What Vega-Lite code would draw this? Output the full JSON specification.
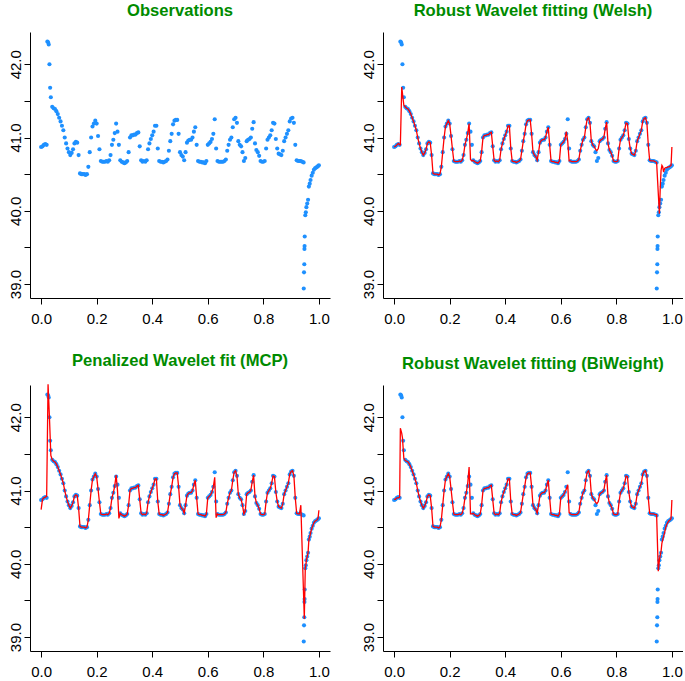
{
"$schema":"https://vega.github.io/schema/vega-lite/v6.json",
"padding":{"left":8,"top":3,"right":0,"bottom":0},
"background":"white",
"datasets":{"series":[
{"x":0.000,"o":40.87,"w":40.87,"b":40.88,"m":40.74},
{"x":0.005,"o":40.88,"w":40.88,"b":40.88,"m":40.88},
{"x":0.010,"o":40.90,"w":40.90,"b":40.90,"m":40.90},
{"x":0.015,"o":40.91,"w":40.92,"b":40.90,"m":40.91},
{"x":0.020,"o":40.90,"w":40.90,"b":40.91,"m":40.92},
{"x":0.0225,"o":42.31,"w":40.90,"b":41.85,"m":null},
{"x":0.025,"o":42.30,"w":null,"b":null,"m":42.45},
{"x":0.0275,"o":42.27,"w":41.69,"b":41.78,"m":null},
{"x":0.030,"o":42.00,"w":null,"b":41.72,"m":42.00},
{"x":0.0325,"o":41.68,"w":null,"b":null,"m":null},
{"x":0.035,"o":41.55,"w":41.44,"b":41.44,"m":41.48},
{"x":0.040,"o":41.42,"w":41.42,"b":41.41,"m":41.42},
{"x":0.045,"o":41.40,"w":41.40,"b":41.40,"m":41.40},
{"x":0.050,"o":41.39,"w":41.39,"b":41.39,"m":41.39},
{"x":0.055,"o":41.36,"w":41.36,"b":41.36,"m":41.36},
{"x":0.060,"o":41.32,"w":41.32,"b":41.32,"m":41.32},
{"x":0.065,"o":41.27,"w":41.27,"b":41.27,"m":41.27},
{"x":0.070,"o":41.22,"w":41.22,"b":41.22,"m":41.22},
{"x":0.075,"o":41.16,"w":41.16,"b":41.16,"m":41.16},
{"x":0.080,"o":41.10,"w":41.10,"b":41.10,"m":41.10},
{"x":0.085,"o":41.00,"w":41.00,"b":41.00,"m":41.00},
{"x":0.090,"o":40.92,"w":40.92,"b":40.92,"m":40.92},
{"x":0.095,"o":40.85,"w":40.85,"b":40.85,"m":40.85},
{"x":0.100,"o":40.80,"w":40.80,"b":40.80,"m":40.80},
{"x":0.105,"o":40.76,"w":40.76,"b":40.76,"m":40.76},
{"x":0.110,"o":40.79,"w":40.79,"b":40.79,"m":40.79},
{"x":0.115,"o":40.84,"w":40.84,"b":40.84,"m":40.84},
{"x":0.120,"o":40.92,"w":40.92,"b":40.92,"m":40.92},
{"x":0.125,"o":40.94,"w":40.94,"b":40.94,"m":40.94},
{"x":0.130,"o":40.93,"w":40.93,"b":40.93,"m":40.93},
{"x":0.135,"o":40.76,"w":40.76,"b":40.76,"m":40.76},
{"x":0.140,"o":40.51,"w":40.51,"b":40.51,"m":40.51},
{"x":0.145,"o":40.50,"w":40.50,"b":40.50,"m":40.50},
{"x":0.150,"o":40.50,"w":40.50,"b":40.50,"m":40.50},
{"x":0.155,"o":40.50,"w":40.50,"b":40.50,"m":40.50},
{"x":0.160,"o":40.49,"w":40.49,"b":40.49,"m":40.49},
{"x":0.165,"o":40.50,"w":40.50,"b":40.50,"m":40.50},
{"x":0.170,"o":40.60,"w":40.60,"b":40.60,"m":40.60},
{"x":0.175,"o":40.80,"w":40.80,"b":40.80,"m":40.80},
{"x":0.180,"o":41.00,"w":41.00,"b":41.00,"m":41.00},
{"x":0.185,"o":41.15,"w":41.15,"b":41.15,"m":41.15},
{"x":0.190,"o":41.19,"w":41.19,"b":41.19,"m":41.19},
{"x":0.195,"o":41.23,"w":41.23,"b":41.23,"m":41.23},
{"x":0.200,"o":41.19,"w":41.19,"b":41.19,"m":41.19},
{"x":0.205,"o":41.02,"w":41.02,"b":41.02,"m":41.02},
{"x":0.210,"o":40.84,"w":40.84,"b":40.84,"m":40.84},
{"x":0.215,"o":40.68,"w":40.68,"b":40.68,"m":40.68},
{"x":0.220,"o":40.67,"w":40.67,"b":40.67,"m":40.67},
{"x":0.225,"o":40.67,"w":40.67,"b":40.67,"m":40.67},
{"x":0.230,"o":40.67,"w":40.67,"b":40.67,"m":40.67},
{"x":0.235,"o":40.68,"w":40.68,"b":40.68,"m":40.68},
{"x":0.240,"o":40.67,"w":40.67,"b":40.67,"m":40.67},
{"x":0.245,"o":40.69,"w":40.69,"b":40.69,"m":40.69},
{"x":0.250,"o":40.76,"w":40.76,"b":40.76,"m":40.76},
{"x":0.255,"o":40.90,"w":40.90,"b":40.90,"m":40.90},
{"x":0.260,"o":40.97,"w":40.97,"b":40.97,"m":40.97},
{"x":0.265,"o":41.06,"w":41.06,"b":41.10,"m":41.06},
{"x":0.270,"o":41.19,"w":41.19,"b":41.32,"m":41.21},
{"x":0.275,"o":41.08,"w":40.70,"b":40.68,"m":41.00},
{"x":0.280,"o":40.90,"w":40.68,"b":40.68,"m":40.62},
{"x":0.285,"o":40.69,"w":40.69,"b":40.69,"m":40.69},
{"x":0.290,"o":40.67,"w":40.67,"b":40.67,"m":40.67},
{"x":0.295,"o":40.66,"w":40.66,"b":40.66,"m":40.66},
{"x":0.300,"o":40.65,"w":40.65,"b":40.65,"m":40.65},
{"x":0.305,"o":40.66,"w":40.66,"b":40.66,"m":40.66},
{"x":0.310,"o":40.68,"w":40.68,"b":40.68,"m":40.68},
{"x":0.315,"o":40.80,"w":40.80,"b":40.80,"m":40.80},
{"x":0.320,"o":41.00,"w":41.00,"b":41.00,"m":41.00},
{"x":0.325,"o":41.03,"w":41.03,"b":41.03,"m":41.03},
{"x":0.330,"o":41.03,"w":41.03,"b":41.03,"m":41.03},
{"x":0.335,"o":41.04,"w":41.04,"b":41.04,"m":41.04},
{"x":0.340,"o":41.04,"w":41.04,"b":41.04,"m":41.04},
{"x":0.345,"o":41.06,"w":41.06,"b":41.06,"m":41.06},
{"x":0.350,"o":41.07,"w":41.07,"b":41.07,"m":41.07},
{"x":0.355,"o":40.88,"w":40.88,"b":40.88,"m":40.88},
{"x":0.360,"o":40.69,"w":40.69,"b":40.69,"m":40.69},
{"x":0.365,"o":40.67,"w":40.67,"b":40.67,"m":40.67},
{"x":0.370,"o":40.68,"w":40.68,"b":40.68,"m":40.68},
{"x":0.375,"o":40.67,"w":40.67,"b":40.67,"m":40.67},
{"x":0.380,"o":40.69,"w":40.69,"b":40.69,"m":40.69},
{"x":0.385,"o":40.84,"w":40.84,"b":40.84,"m":40.84},
{"x":0.390,"o":40.92,"w":40.92,"b":40.92,"m":40.92},
{"x":0.395,"o":40.98,"w":40.98,"b":40.98,"m":40.98},
{"x":0.400,"o":41.03,"w":41.03,"b":41.03,"m":41.03},
{"x":0.405,"o":41.08,"w":41.08,"b":41.08,"m":41.08},
{"x":0.410,"o":41.16,"w":41.16,"b":41.16,"m":41.16},
{"x":0.415,"o":41.16,"w":41.16,"b":41.16,"m":41.16},
{"x":0.420,"o":40.85,"w":40.85,"b":40.85,"m":40.85},
{"x":0.425,"o":40.68,"w":40.68,"b":40.68,"m":40.68},
{"x":0.430,"o":40.67,"w":40.67,"b":40.67,"m":40.67},
{"x":0.435,"o":40.67,"w":40.67,"b":40.67,"m":40.67},
{"x":0.440,"o":40.66,"w":40.66,"b":40.66,"m":40.66},
{"x":0.445,"o":40.67,"w":40.67,"b":40.67,"m":40.67},
{"x":0.450,"o":40.68,"w":40.68,"b":40.68,"m":40.68},
{"x":0.455,"o":40.70,"w":40.70,"b":40.70,"m":40.70},
{"x":0.460,"o":40.82,"w":40.82,"b":40.82,"m":40.82},
{"x":0.465,"o":40.95,"w":40.95,"b":40.95,"m":40.95},
{"x":0.470,"o":41.05,"w":41.05,"b":41.05,"m":41.05},
{"x":0.475,"o":41.18,"w":41.18,"b":41.18,"m":41.18},
{"x":0.480,"o":41.23,"w":41.23,"b":41.23,"m":41.23},
{"x":0.485,"o":41.24,"w":41.24,"b":41.24,"m":41.24},
{"x":0.490,"o":41.24,"w":41.24,"b":41.24,"m":41.24},
{"x":0.495,"o":41.05,"w":41.05,"b":41.05,"m":41.05},
{"x":0.500,"o":40.80,"w":40.80,"b":40.80,"m":40.80},
{"x":0.505,"o":40.76,"w":40.76,"b":40.76,"m":40.76},
{"x":0.510,"o":40.74,"w":40.74,"b":40.74,"m":40.74},
{"x":0.515,"o":40.69,"w":40.69,"b":40.69,"m":40.69},
{"x":0.520,"o":40.80,"w":40.80,"b":40.80,"m":40.80},
{"x":0.525,"o":40.93,"w":40.93,"b":40.93,"m":40.93},
{"x":0.530,"o":40.96,"w":40.96,"b":40.96,"m":40.96},
{"x":0.535,"o":40.97,"w":40.97,"b":40.97,"m":40.97},
{"x":0.540,"o":40.97,"w":40.97,"b":40.97,"m":40.97},
{"x":0.545,"o":41.00,"w":41.00,"b":41.00,"m":41.00},
{"x":0.550,"o":41.08,"w":41.08,"b":41.08,"m":41.08},
{"x":0.555,"o":41.14,"w":41.14,"b":41.14,"m":41.14},
{"x":0.560,"o":40.90,"w":40.90,"b":40.90,"m":40.90},
{"x":0.565,"o":40.68,"w":40.68,"b":40.68,"m":40.68},
{"x":0.570,"o":40.67,"w":40.67,"b":40.67,"m":40.67},
{"x":0.575,"o":40.67,"w":40.67,"b":40.67,"m":40.67},
{"x":0.580,"o":40.66,"w":40.66,"b":40.66,"m":40.66},
{"x":0.585,"o":40.66,"w":40.66,"b":40.66,"m":40.66},
{"x":0.590,"o":40.65,"w":40.65,"b":40.65,"m":40.65},
{"x":0.595,"o":40.68,"w":40.68,"b":40.68,"m":40.68},
{"x":0.600,"o":40.90,"w":40.90,"b":40.90,"m":40.90},
{"x":0.605,"o":40.92,"w":40.92,"b":40.92,"m":40.92},
{"x":0.610,"o":40.94,"w":40.94,"b":40.94,"m":40.94},
{"x":0.615,"o":40.98,"w":40.98,"b":40.98,"m":40.98},
{"x":0.620,"o":41.05,"w":41.08,"b":41.02,"m":41.05},
{"x":0.625,"o":41.25,"w":40.95,"b":41.08,"m":41.18},
{"x":0.630,"o":40.85,"w":40.68,"b":40.70,"m":40.63},
{"x":0.635,"o":40.68,"w":40.68,"b":40.68,"m":40.68},
{"x":0.640,"o":40.67,"w":40.67,"b":40.67,"m":40.67},
{"x":0.645,"o":40.67,"w":40.67,"b":40.67,"m":40.67},
{"x":0.650,"o":40.67,"w":40.67,"b":40.67,"m":40.67},
{"x":0.655,"o":40.67,"w":40.67,"b":40.67,"m":40.67},
{"x":0.660,"o":40.68,"w":40.68,"b":40.68,"m":40.68},
{"x":0.665,"o":40.70,"w":40.70,"b":40.70,"m":40.70},
{"x":0.670,"o":40.82,"w":40.82,"b":40.82,"m":40.82},
{"x":0.675,"o":40.90,"w":40.90,"b":40.90,"m":40.90},
{"x":0.680,"o":40.97,"w":40.97,"b":40.97,"m":40.97},
{"x":0.685,"o":41.00,"w":41.00,"b":41.00,"m":41.00},
{"x":0.690,"o":41.14,"w":41.14,"b":41.14,"m":41.14},
{"x":0.695,"o":41.25,"w":41.25,"b":41.25,"m":41.25},
{"x":0.700,"o":41.27,"w":41.27,"b":41.27,"m":41.27},
{"x":0.705,"o":41.20,"w":41.20,"b":41.20,"m":41.20},
{"x":0.710,"o":40.95,"w":40.95,"b":40.95,"m":40.95},
{"x":0.715,"o":40.90,"w":40.90,"b":40.90,"m":40.90},
{"x":0.720,"o":40.88,"w":40.88,"b":40.88,"m":40.88},
{"x":0.725,"o":40.80,"w":40.84,"b":40.84,"m":40.80},
{"x":0.730,"o":40.68,"w":40.82,"b":40.82,"m":40.68},
{"x":0.735,"o":40.72,"w":40.85,"b":40.85,"m":40.72},
{"x":0.740,"o":40.95,"w":40.95,"b":40.95,"m":40.95},
{"x":0.745,"o":40.97,"w":40.97,"b":40.97,"m":40.97},
{"x":0.750,"o":40.98,"w":40.98,"b":40.98,"m":40.98},
{"x":0.755,"o":41.00,"w":41.00,"b":41.00,"m":41.00},
{"x":0.760,"o":41.12,"w":41.12,"b":41.12,"m":41.12},
{"x":0.765,"o":41.21,"w":41.21,"b":41.21,"m":41.21},
{"x":0.770,"o":40.92,"w":40.92,"b":40.92,"m":40.92},
{"x":0.775,"o":40.83,"w":40.83,"b":40.83,"m":40.83},
{"x":0.780,"o":40.80,"w":40.80,"b":40.80,"m":40.80},
{"x":0.785,"o":40.75,"w":40.75,"b":40.75,"m":40.75},
{"x":0.790,"o":40.68,"w":40.68,"b":40.68,"m":40.68},
{"x":0.795,"o":40.67,"w":40.67,"b":40.67,"m":40.67},
{"x":0.800,"o":40.67,"w":40.67,"b":40.67,"m":40.67},
{"x":0.805,"o":40.68,"w":40.68,"b":40.68,"m":40.68},
{"x":0.810,"o":40.85,"w":40.85,"b":40.85,"m":40.85},
{"x":0.815,"o":40.97,"w":40.97,"b":40.97,"m":40.97},
{"x":0.820,"o":41.00,"w":41.00,"b":41.00,"m":41.00},
{"x":0.825,"o":41.03,"w":41.03,"b":41.03,"m":41.03},
{"x":0.830,"o":41.10,"w":41.10,"b":41.10,"m":41.10},
{"x":0.835,"o":41.20,"w":41.20,"b":41.20,"m":41.20},
{"x":0.840,"o":41.19,"w":41.19,"b":41.19,"m":41.19},
{"x":0.845,"o":40.98,"w":40.98,"b":40.98,"m":40.98},
{"x":0.850,"o":40.85,"w":40.85,"b":40.85,"m":40.85},
{"x":0.855,"o":40.78,"w":40.78,"b":40.78,"m":40.78},
{"x":0.860,"o":40.77,"w":40.77,"b":40.77,"m":40.77},
{"x":0.865,"o":40.76,"w":40.76,"b":40.76,"m":40.76},
{"x":0.870,"o":40.82,"w":40.82,"b":40.82,"m":40.82},
{"x":0.875,"o":40.95,"w":40.95,"b":40.95,"m":40.95},
{"x":0.880,"o":41.00,"w":41.00,"b":41.00,"m":41.00},
{"x":0.885,"o":41.05,"w":41.05,"b":41.05,"m":41.05},
{"x":0.890,"o":41.10,"w":41.10,"b":41.10,"m":41.10},
{"x":0.895,"o":41.22,"w":41.22,"b":41.22,"m":41.22},
{"x":0.900,"o":41.26,"w":41.26,"b":41.26,"m":41.26},
{"x":0.905,"o":41.27,"w":41.27,"b":41.27,"m":41.27},
{"x":0.910,"o":41.20,"w":41.20,"b":41.20,"m":41.20},
{"x":0.915,"o":40.90,"w":40.90,"b":40.90,"m":40.90},
{"x":0.920,"o":40.69,"w":40.69,"b":40.69,"m":40.69},
{"x":0.925,"o":40.68,"w":40.68,"b":40.68,"m":40.68},
{"x":0.930,"o":40.68,"w":40.68,"b":40.68,"m":40.68},
{"x":0.935,"o":40.68,"w":40.68,"b":40.68,"m":40.80},
{"x":0.940,"o":40.67,"w":40.67,"b":40.67,"m":null},
{"x":0.945,"o":40.66,"w":40.66,"b":40.67,"m":null},
{"x":0.9455,"o":38.94,"w":null,"b":null,"m":null},
{"x":0.9465,"o":39.16,"w":null,"b":null,"m":null},
{"x":0.9475,"o":39.27,"w":null,"b":null,"m":39.25},
{"x":0.948,"o":39.48,"w":null,"b":null,"m":null},
{"x":0.9485,"o":39.52,"w":null,"b":null,"m":null},
{"x":0.949,"o":39.65,"w":null,"b":null,"m":null},
{"x":0.951,"o":39.94,"w":null,"b":39.90,"m":39.94},
{"x":0.953,"o":39.98,"w":null,"b":null,"m":39.98},
{"x":0.955,"o":40.05,"w":39.96,"b":40.05,"m":40.05},
{"x":0.958,"o":40.10,"w":40.30,"b":40.12,"m":40.10},
{"x":0.961,"o":40.15,"w":40.55,"b":40.17,"m":40.15},
{"x":0.964,"o":40.33,"w":40.62,"b":40.28,"m":40.33},
{"x":0.967,"o":40.37,"w":40.60,"b":40.33,"m":40.37},
{"x":0.970,"o":40.42,"w":40.53,"b":40.37,"m":40.42},
{"x":0.974,"o":40.48,"w":40.58,"b":40.43,"m":40.48},
{"x":0.978,"o":40.52,"w":40.59,"b":40.50,"m":40.52},
{"x":0.982,"o":40.56,"w":40.59,"b":40.54,"m":40.56},
{"x":0.986,"o":40.58,"w":40.60,"b":40.57,"m":40.58},
{"x":0.990,"o":40.59,"w":40.60,"b":40.59,"m":40.59},
{"x":0.994,"o":40.60,"w":40.61,"b":40.60,"m":40.60},
{"x":0.997,"o":40.61,"w":40.62,"b":40.62,"m":40.62},
{"x":1.000,"o":40.62,"w":40.87,"b":40.87,"m":40.73}
]},
"columns":2,
"spacing":{"row":87,"column":53},
"bounds":"flush",
"concat":[
{"width":300,"height":266,"title":"Observations","data":{"name":"series"},
 "layer":[
  {"mark":{"type":"circle","size":17,"color":"#1E90FF","opacity":1},
   "encoding":{"x":{"field":"x","type":"quantitative","scale":{"domain":[-0.04,1.04],"nice":false,"zero":false},"axis":{"values":[0,0.2,0.4,0.6,0.8,1],"format":".1f","title":null}},
    "y":{"field":"o","type":"quantitative","scale":{"domain":[38.81,42.44],"nice":false,"zero":false},"axis":{"values":[39,39.5,40,40.5,41,41.5,42],"labelExpr":"datum.value % 1 === 0 ? format(datum.value, '.1f') : ''","title":null}}}}
 ]},
{"width":300,"height":266,"title":"Robust Wavelet fitting (Welsh)","data":{"name":"series"},
 "layer":[
  {"mark":{"type":"circle","size":17,"color":"#1E90FF","opacity":1},
   "encoding":{"x":{"field":"x","type":"quantitative","scale":{"domain":[-0.04,1.04],"nice":false,"zero":false},"axis":{"values":[0,0.2,0.4,0.6,0.8,1],"format":".1f","title":null}},
    "y":{"field":"o","type":"quantitative","scale":{"domain":[38.81,42.44],"nice":false,"zero":false},"axis":{"values":[39,39.5,40,40.5,41,41.5,42],"labelExpr":"datum.value % 1 === 0 ? format(datum.value, '.1f') : ''","title":null}}}},
  {"transform":[{"filter":"isValid(datum.w)"}],
   "mark":{"type":"line","color":"#FF0000","strokeWidth":1.3},
   "encoding":{"x":{"field":"x","type":"quantitative","axis":{"values":[0,0.2,0.4,0.6,0.8,1],"format":".1f","title":null}},
    "y":{"field":"w","type":"quantitative","axis":{"values":[39,39.5,40,40.5,41,41.5,42],"labelExpr":"datum.value % 1 === 0 ? format(datum.value, '.1f') : ''","title":null}}}}
 ]},
{"width":300,"height":266,"title":"Penalized Wavelet fit (MCP)","data":{"name":"series"},
 "layer":[
  {"mark":{"type":"circle","size":17,"color":"#1E90FF","opacity":1},
   "encoding":{"x":{"field":"x","type":"quantitative","scale":{"domain":[-0.04,1.04],"nice":false,"zero":false},"axis":{"values":[0,0.2,0.4,0.6,0.8,1],"format":".1f","title":null}},
    "y":{"field":"o","type":"quantitative","scale":{"domain":[38.81,42.44],"nice":false,"zero":false},"axis":{"values":[39,39.5,40,40.5,41,41.5,42],"labelExpr":"datum.value % 1 === 0 ? format(datum.value, '.1f') : ''","title":null}}}},
  {"transform":[{"filter":"isValid(datum.m)"}],
   "mark":{"type":"line","color":"#FF0000","strokeWidth":1.3},
   "encoding":{"x":{"field":"x","type":"quantitative","axis":{"values":[0,0.2,0.4,0.6,0.8,1],"format":".1f","title":null}},
    "y":{"field":"m","type":"quantitative","axis":{"values":[39,39.5,40,40.5,41,41.5,42],"labelExpr":"datum.value % 1 === 0 ? format(datum.value, '.1f') : ''","title":null}}}}
 ]},
{"width":300,"height":266,"title":"Robust Wavelet fitting (BiWeight)","data":{"name":"series"},
 "layer":[
  {"mark":{"type":"circle","size":17,"color":"#1E90FF","opacity":1},
   "encoding":{"x":{"field":"x","type":"quantitative","scale":{"domain":[-0.04,1.04],"nice":false,"zero":false},"axis":{"values":[0,0.2,0.4,0.6,0.8,1],"format":".1f","title":null}},
    "y":{"field":"o","type":"quantitative","scale":{"domain":[38.81,42.44],"nice":false,"zero":false},"axis":{"values":[39,39.5,40,40.5,41,41.5,42],"labelExpr":"datum.value % 1 === 0 ? format(datum.value, '.1f') : ''","title":null}}}},
  {"transform":[{"filter":"isValid(datum.b)"}],
   "mark":{"type":"line","color":"#FF0000","strokeWidth":1.3},
   "encoding":{"x":{"field":"x","type":"quantitative","axis":{"values":[0,0.2,0.4,0.6,0.8,1],"format":".1f","title":null}},
    "y":{"field":"b","type":"quantitative","axis":{"values":[39,39.5,40,40.5,41,41.5,42],"labelExpr":"datum.value % 1 === 0 ? format(datum.value, '.1f') : ''","title":null}}}}
 ]}
],
"config":{
 "view":{"stroke":null},
 "axis":{"grid":false,"domainColor":"#000000","tickColor":"#000000","labelColor":"#000000","labelFont":"Liberation Sans","labelFontSize":15,"tickSize":6,"domainWidth":1,"tickWidth":1,"labelOverlap":false,"labelFlush":false,"labelBound":false},
 "axisX":{"labelPadding":7,"labelAngle":0,"labelBaseline":"top","labelAlign":"center"},
 "axisY":{"labelAngle":-90,"labelAlign":"center","labelBaseline":"alphabetic","labelPadding":4},
 "title":{"font":"Liberation Sans","fontSize":16.6,"fontWeight":"bold","color":"#008B00","anchor":"middle","frame":"group","offset":12,"baseline":"alphabetic"}
}
}
